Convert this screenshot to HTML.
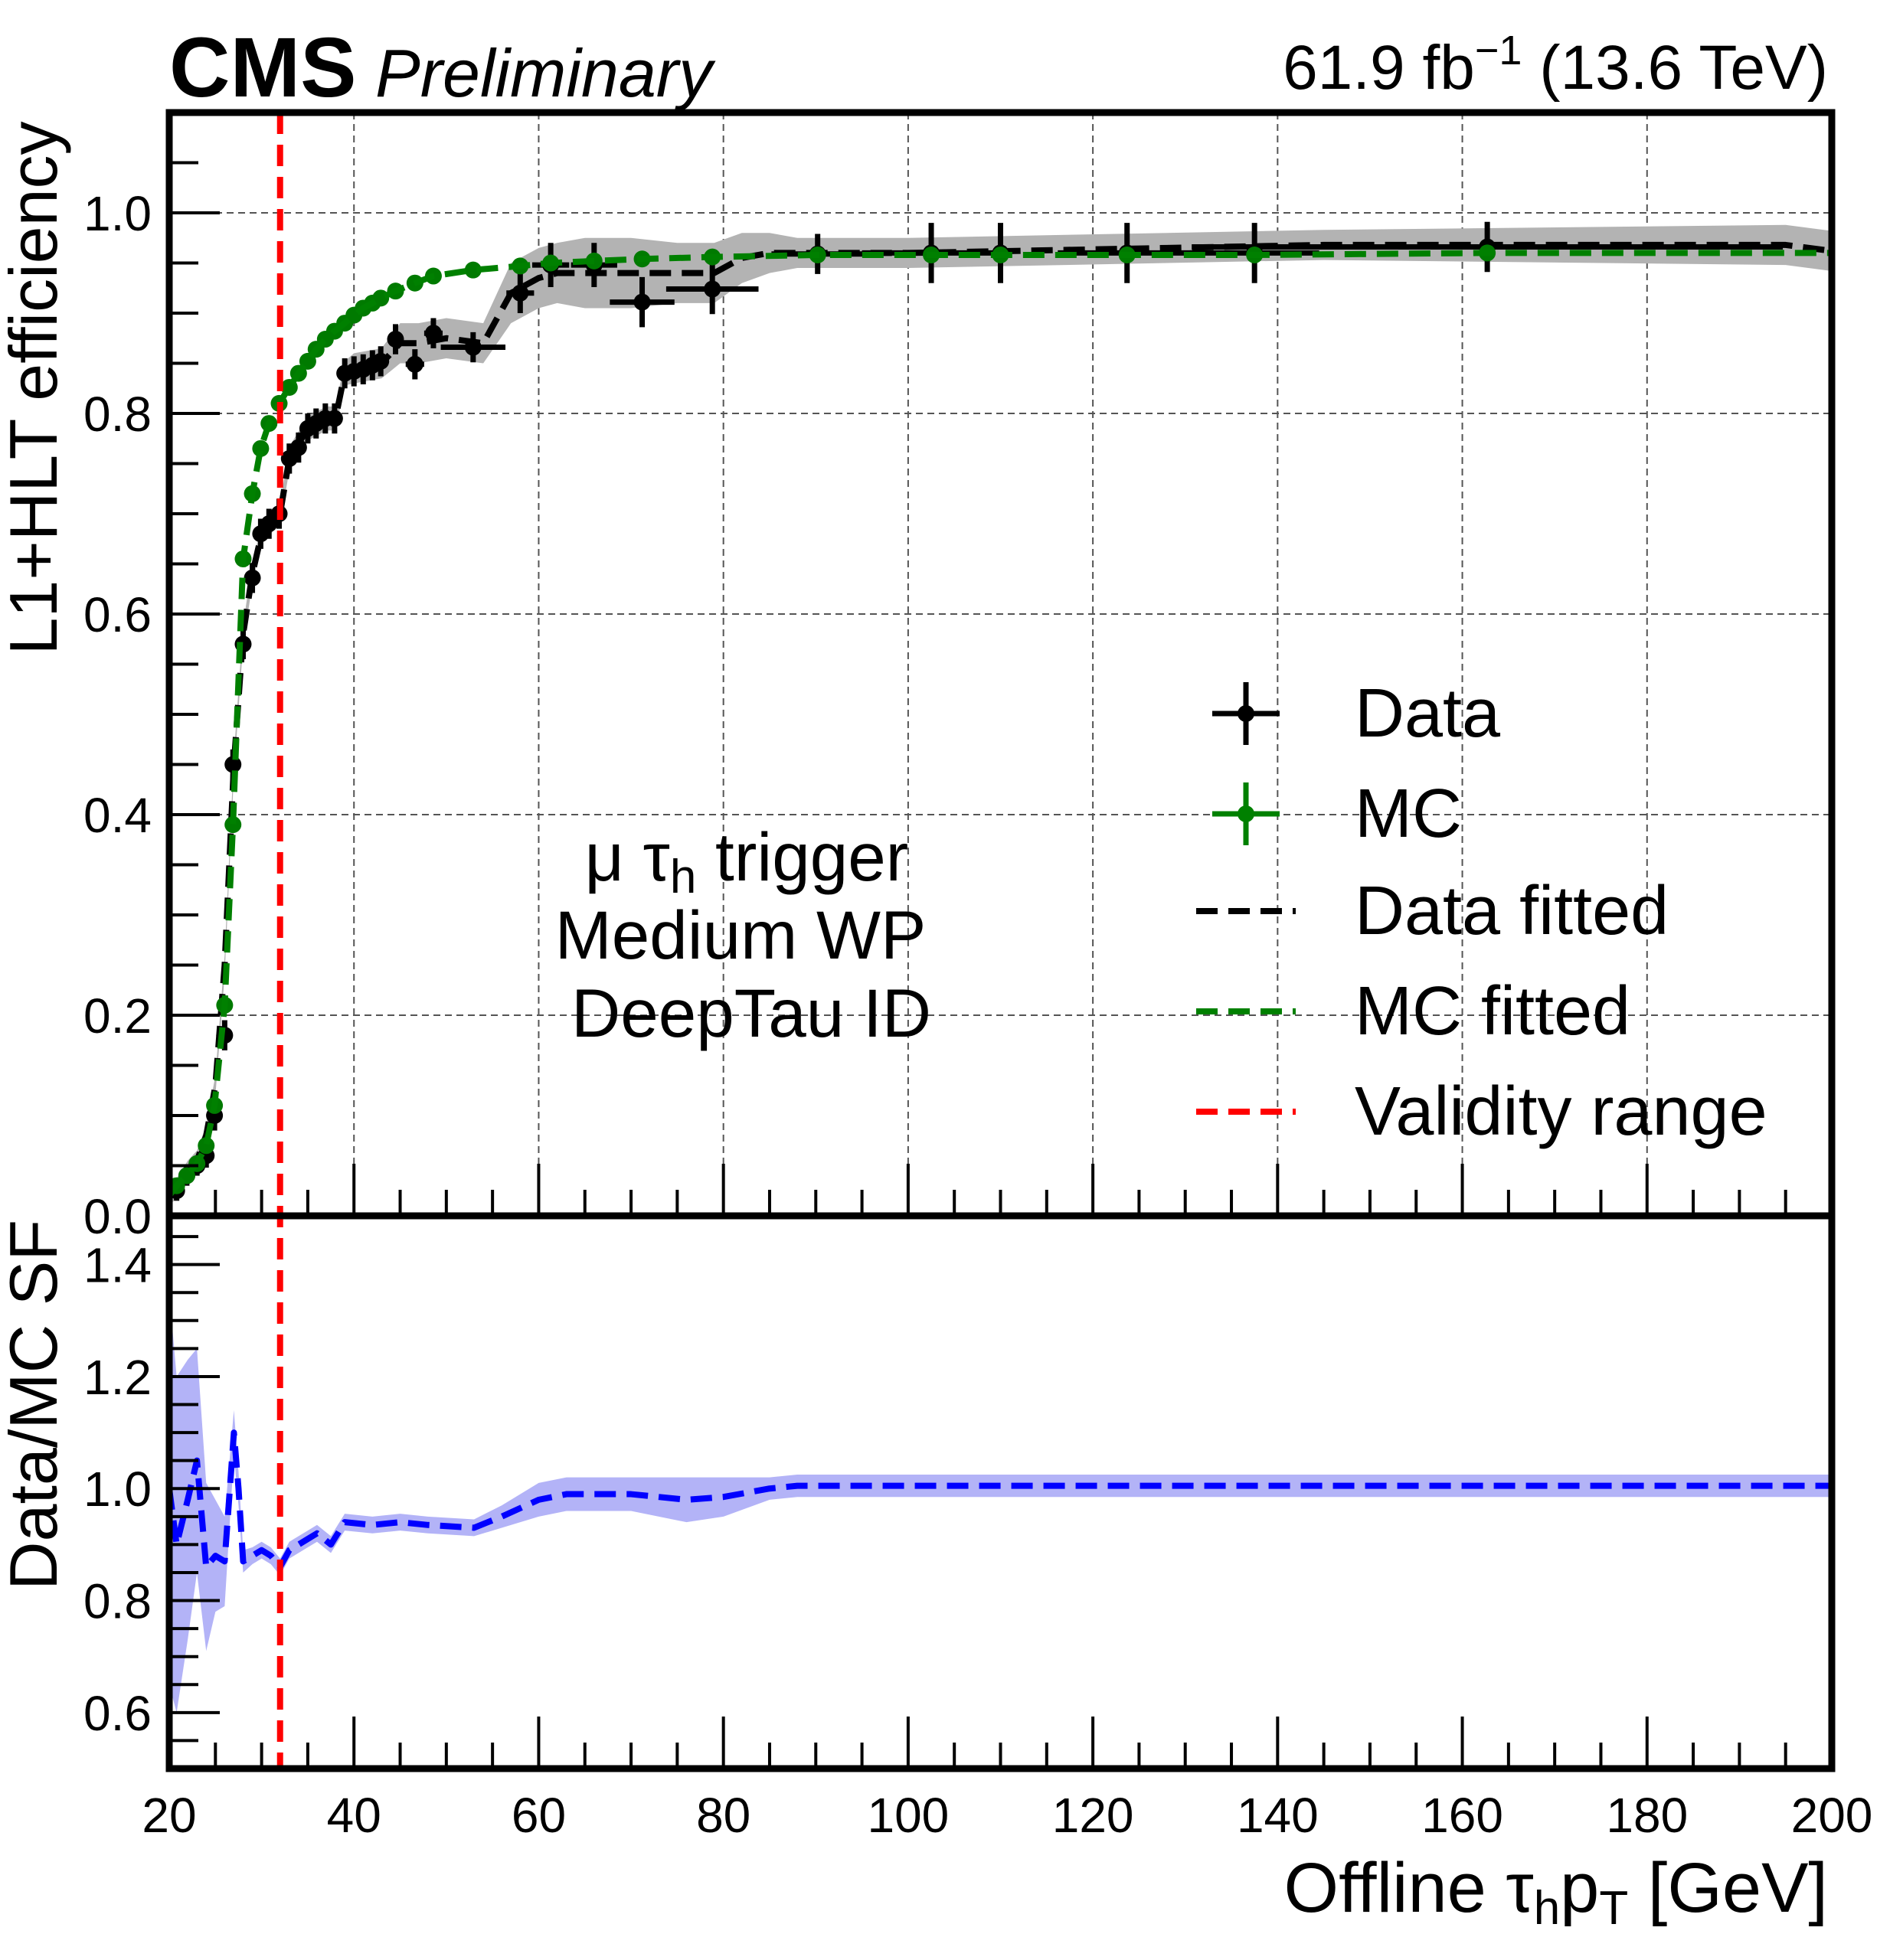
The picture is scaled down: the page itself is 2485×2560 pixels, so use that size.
<!DOCTYPE html>
<html><head><meta charset="utf-8"><style>
html,body{margin:0;padding:0;background:#fff;}
svg{display:block;font-family:"Liberation Sans",sans-serif;}
</style></head><body>
<svg id="c" width="2485" height="2560" viewBox="0 0 2485 2560"></svg>
<script>
// ---- data ----
const dataX=[20.8,21.9,23,24,24.9,26,26.9,28,29,29.9,30.8,31.9,33,34,35,35.9,36.9,37.9,39,40,41,42,42.9,44.5,46.6,48.6,52.9,58,61.3,66,71.2,78.8,90.2,102.5,110,123.7,137.5,162.7];
const dataY=[0.025,0.04,0.05,0.06,0.10,0.18,0.45,0.57,0.636,0.68,0.69,0.70,0.755,0.766,0.785,0.79,0.795,0.795,0.84,0.842,0.844,0.848,0.852,0.874,0.849,0.88,0.866,0.92,0.948,0.948,0.911,0.924,0.959,0.96,0.96,0.96,0.96,0.966];
const dataXErr=[0.5,0.5,0.5,0.5,0.5,0.5,0.5,0.5,0.5,0.5,0.5,0.5,0.5,0.5,0.5,0.5,0.5,0.5,0.5,0.5,0.5,0.5,0.5,0.8,1,1,3.5,1.5,2,2.5,3.5,5,5,7.5,0,7.5,7,32];
const dataYErr=[0.01,0.01,0.01,0.012,0.015,0.015,0.015,0.015,0.015,0.015,0.015,0.015,0.015,0.015,0.015,0.015,0.015,0.015,0.015,0.015,0.015,0.015,0.015,0.015,0.015,0.015,0.015,0.02,0.022,0.022,0.025,0.025,0.02,0.03,0.03,0.03,0.03,0.025];
const mcX=[20.8,21.9,23,24,24.9,26,26.9,28,29,29.9,30.8,31.9,33,34,35,35.9,36.9,37.9,39,40,41,42,42.9,44.5,46.6,48.6,52.9,58,61.3,66,71.2,78.8,90.2,102.5,110,123.7,137.5,162.7];
const mcY=[0.03,0.04,0.052,0.07,0.11,0.21,0.39,0.655,0.72,0.765,0.79,0.81,0.826,0.84,0.852,0.864,0.874,0.882,0.89,0.898,0.905,0.91,0.915,0.922,0.93,0.937,0.943,0.947,0.95,0.952,0.954,0.956,0.958,0.958,0.958,0.958,0.958,0.96];
const fitX=[20,21,22,23,24,25,26,27,28,29,30,31,32,33,34,35,36,37,38,39,40,43,45,47,50,54,57,60,62,65,70,75,79,82,85,88,100,145,195,200];
const fitY=[0.02,0.03,0.045,0.055,0.08,0.13,0.25,0.45,0.58,0.64,0.68,0.69,0.70,0.755,0.77,0.785,0.79,0.795,0.795,0.84,0.845,0.85,0.87,0.87,0.875,0.87,0.92,0.935,0.94,0.94,0.94,0.94,0.94,0.955,0.96,0.96,0.96,0.968,0.968,0.962];
const fitErr=[0.01,0.01,0.01,0.01,0.01,0.01,0.01,0.01,0.01,0.01,0.01,0.01,0.01,0.012,0.012,0.012,0.012,0.012,0.012,0.012,0.015,0.015,0.02,0.02,0.02,0.02,0.03,0.03,0.03,0.035,0.035,0.03,0.03,0.025,0.02,0.015,0.015,0.015,0.02,0.02];
const mcFitX=[20,20.8,21.9,23,24,24.9,26,26.9,28,29,29.9,30.8,31.9,33,34,35,35.9,36.9,37.9,39,40,41,42,42.9,44.5,46.6,48.6,52.9,58,61.3,66,71.2,78.8,90.2,102.5,137.5,162.7,200];
const mcFitY=[0.02,0.03,0.04,0.052,0.07,0.11,0.21,0.39,0.655,0.72,0.765,0.79,0.81,0.826,0.84,0.852,0.864,0.874,0.882,0.89,0.898,0.905,0.91,0.915,0.922,0.93,0.937,0.943,0.947,0.95,0.952,0.954,0.956,0.958,0.958,0.958,0.96,0.96];
const sfX=[20,20.8,22,23,24,25,26,27,27.5,28,29,30,31,32,33,35,36,37.5,39,42,45,48,53,56,60,63,70,76,80,85,88,200];
const sfY=[1.0,0.90,0.98,1.05,0.86,0.88,0.87,1.10,1.0,0.87,0.88,0.89,0.88,0.86,0.89,0.91,0.92,0.90,0.94,0.935,0.94,0.935,0.93,0.95,0.98,0.99,0.99,0.98,0.985,1.0,1.005,1.005];
const sfErr=[0.35,0.3,0.25,0.2,0.15,0.1,0.08,0.04,0.03,0.02,0.015,0.015,0.015,0.015,0.015,0.015,0.015,0.015,0.015,0.015,0.015,0.015,0.015,0.02,0.03,0.03,0.03,0.04,0.035,0.02,0.02,0.02];
const xTicks=[20,40,60,80,100,120,140,160,180,200];
const yTicksUp=[0.0,0.2,0.4,0.6,0.8,1.0];
const yTicksLo=[0.6,0.8,1.0,1.2,1.4];
const validity=32;

// ---- geometry ----
const L=221,R=2392,T=147,M=1588,B=2310;
const X=v=>L+(v-20)/180*(R-L);
const YU=v=>M-v*(M-T)/1.1;
const YL=v=>B-(v-0.5)*(B-M)/0.987;
const svg=document.getElementById('c');
const NS='http://www.w3.org/2000/svg';
function mk(tag,at,parent){const e=document.createElementNS(NS,tag);for(const k in at)e.setAttribute(k,at[k]);(parent||svg).appendChild(e);return e;}

const grid=mk('g',{});


xTicks.slice(1,-1).forEach(v=>mk('line',{x1:X(v),x2:X(v),y1:T,y2:M,stroke:'#555','stroke-width':2,'stroke-dasharray':'9,6'},grid));
yTicksUp.slice(1).forEach(v=>mk('line',{x1:L,x2:R,y1:YU(v),y2:YU(v),stroke:'#555','stroke-width':2,'stroke-dasharray':'9,6'},grid));

function band(xs,ys,es,Y,fill){let p=xs.map((x,i)=>X(x)+','+Y(ys[i]+es[i]));p=p.concat(xs.map((x,i)=>X(x)+','+Y(ys[i]-es[i])).reverse());return mk('polygon',{points:p.join(' '),fill:fill});}
const ub=band(fitX,fitY,fitErr,YU,'#b3b3b3');



function pts(xs,ys,xe,ye,col,name,r){const g=mk('g',{});
xs.forEach((x,i)=>{const xerr=xe?xe[i]:0.5;const yerr=ye?ye[i]:0.008;
mk('line',{x1:X(Math.max(20,x-xerr)),x2:X(x+xerr),y1:YU(ys[i]),y2:YU(ys[i]),stroke:col,'stroke-width':7},g);
mk('line',{x1:X(x),x2:X(x),y1:YU(ys[i]-yerr),y2:YU(ys[i]+yerr),stroke:col,'stroke-width':7},g);
mk('circle',{cx:X(x),cy:YU(ys[i]),r:r,fill:col},g);});}
function line(xs,ys,Y,col,w,dash){return mk('polyline',{points:xs.map((x,i)=>X(x)+','+Y(ys[i])).join(' '),fill:'none',stroke:col,'stroke-width':w,'stroke-dasharray':dash,'stroke-linejoin':'round'});}
pts(dataX,dataY,dataXErr,dataYErr,'#000','data-points',11);
const dl=line(fitX,fitY,YU,'#000',8,'28,14');


pts(mcX,mcY,null,mcY.map(()=>0.005),'#007a00','mc-points',11);
const ml=line(mcFitX,mcFitY,YU,'#008000',8,'28,14');



const sb=band(sfX,sfY,sfErr,YL,'#b3b3f7');


const sl=line(sfX,sfY,YL,'#0000ff',8,'28,14');



const vl=mk('line',{x1:X(validity),x2:X(validity),y1:T,y2:B,stroke:'#ff0000','stroke-width':8,'stroke-dasharray':'28,14'});



const tk=mk('g',{stroke:'#000','stroke-width':4});


for(let v=20;v<=200;v+=5){const maj=v%20===0;const h=maj?68:34;
[M,B].forEach(y=>mk('line',{x1:X(v),x2:X(v),y1:y,y2:y-h},tk));}
for(let i=0;i<=22;i++){const v=i*0.05;const maj=i%4===0;const h=maj?66:38;mk('line',{x1:L,x2:L+h,y1:YU(v),y2:YU(v)},tk);}
for(let i=10;i<=29;i++){const v=i*0.05;const maj=i%4===0;const h=maj?66:38;mk('line',{x1:L,x2:L+h,y1:YL(v),y2:YL(v)},tk);}

const f1=mk('rect',{x:L,y:T,width:R-L,height:M-T,fill:'none',stroke:'#000','stroke-width':9});


const f2=mk('rect',{x:L,y:M,width:R-L,height:B-M,fill:'none',stroke:'#000','stroke-width':9});



xTicks.forEach(v=>{const t=mk('text',{x:X(v),y:2393,'font-size':64,'text-anchor':'middle'});t.textContent=v;

});
yTicksUp.forEach(v=>{const t=mk('text',{x:198,y:YU(v)+23,'font-size':64,'text-anchor':'end'});t.textContent=v.toFixed(1);

});
yTicksLo.forEach(v=>{const t=mk('text',{x:198,y:YL(v)+23,'font-size':64,'text-anchor':'end'});t.textContent=v.toFixed(1);

});
</script>
<script>
(function(){
const svg=document.getElementById('c');
svg.insertAdjacentHTML('beforeend',`
<text x="221" y="126" font-size="110" font-weight="bold">CMS</text>
<text x="490" y="126" font-size="88" font-style="italic">Preliminary</text>
<text x="2387" y="116" font-size="82" text-anchor="end">61.9 fb<tspan dy="-32" font-size="54">−1</tspan><tspan dy="32"> (13.6 TeV)</tspan></text>
<text transform="translate(74,507) rotate(-90)" font-size="88" text-anchor="middle">L1+HLT efficiency</text>
<text transform="translate(74,1835) rotate(-90)" font-size="88" text-anchor="middle">Data/MC SF</text>
<text x="2387" y="2497" font-size="92" text-anchor="end">Offline τ<tspan dy="16" font-size="62">h</tspan><tspan dy="-16">p</tspan><tspan dy="16" font-size="62">T</tspan><tspan dy="-16"> [GeV]</tspan></text>
<g font-size="89" text-anchor="middle">
<text x="975" y="1150">μ τ<tspan dy="16" font-size="62">h</tspan><tspan dy="-16"> trigger</tspan></text>
<text x="967" y="1252">Medium WP</text>
<text x="981" y="1354">DeepTau ID</text>
</g>
<g font-size="90">
<g><line x1="1583" x2="1671" y1="932" y2="932" stroke="#000" stroke-width="7"/><line x1="1627" x2="1627" y1="891" y2="973" stroke="#000" stroke-width="7"/><circle cx="1627" cy="932" r="11"/><text x="1769" y="962">Data</text></g>
<g><line x1="1583" x2="1671" y1="1063" y2="1063" stroke="#008000" stroke-width="7"/><line x1="1627" x2="1627" y1="1022" y2="1104" stroke="#008000" stroke-width="7"/><circle cx="1627" cy="1063" r="11" fill="#008000"/><text x="1769" y="1093">MC</text></g>
<g><line x1="1562" x2="1692" y1="1190" y2="1190" stroke="#000" stroke-width="8" stroke-dasharray="28,14"/><text x="1769" y="1220">Data fitted</text></g>
<g><line x1="1562" x2="1692" y1="1321" y2="1321" stroke="#008000" stroke-width="8" stroke-dasharray="28,14"/><text x="1769" y="1351">MC fitted</text></g>
<g><line x1="1562" x2="1692" y1="1452" y2="1452" stroke="#ff0000" stroke-width="8" stroke-dasharray="28,14"/><text x="1769" y="1482">Validity range</text></g>
</g>`);
})();
</script>
</body></html>
